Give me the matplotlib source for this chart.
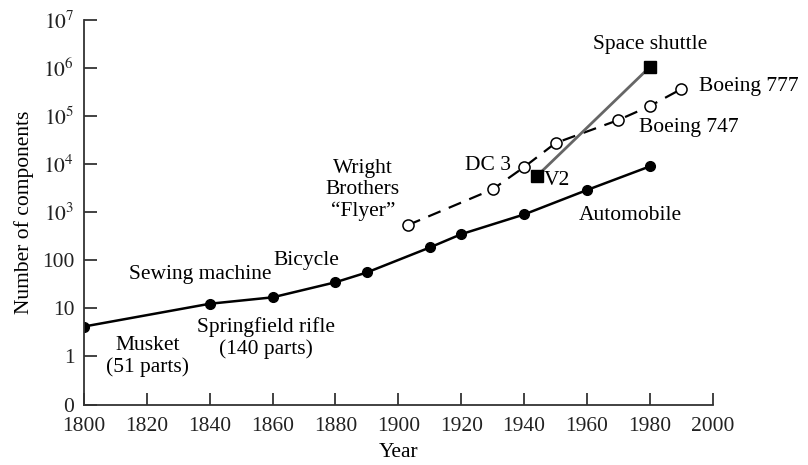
import numpy as np
import matplotlib.pyplot as plt

plt.rcParams['font.family'] = ['Liberation Serif', 'DejaVu Serif']
plt.rcParams['mathtext.fontset'] = 'stix'

# Mechanical products (filled circles)
mech_years = [1800, 1840, 1860, 1880, 1890, 1910, 1920, 1940, 1960, 1980]
mech_parts = [4.2, 12.5, 17, 35, 56, 185, 350, 900, 2900, 9000]

# Aircraft (open circles, dashed)
air_years = [1903, 1930, 1940, 1950, 1970, 1980, 1990]
air_parts = [540, 3000, 8700, 27500, 83000, 162000, 365000]

# Rockets (squares)
rocket_years = [1944, 1980]
rocket_parts = [5600, 1.05e6]

ytick_vals = [0.1, 1, 10, 100, 1e3, 1e4, 1e5, 1e6, 1e7]
ytick_labels = ['0', '1', '10', '100', r'$10^3$', r'$10^4$', r'$10^5$', r'$10^6$', r'$10^7$']

fig = plt.figure(figsize=(8.08, 4.65), dpi=100)
ax = fig.add_axes([0.104, 0.13, 0.778, 0.827])

ax.plot(mech_years, mech_parts, '-', color='black', lw=1.8,
        marker='o', markersize=7, markerfacecolor='black')
ax.plot(air_years, air_parts, '--', color='black', lw=1.6, dashes=(6, 4),
        marker='o', markersize=8, markerfacecolor='white', markeredgewidth=1.1)
ax.plot(rocket_years, rocket_parts, '-', color='#666666', lw=2,
        marker='s', markersize=9, markerfacecolor='black', markeredgecolor='black')

ax.set_yscale('log')
ax.set_xlim(1800, 2000)
ax.set_ylim(0.1, 1e7)
ax.set_xticks(np.arange(1800, 2001, 20))
ax.set_yticks(ytick_vals)
ax.set_yticklabels(ytick_labels)
ax.minorticks_off()
ax.tick_params(direction='in', length=9, width=1.2, labelsize=15.5, colors='#222222')
ax.tick_params(axis='x', pad=9)
ax.tick_params(axis='y', pad=7)
for s in ['top', 'right']:
    ax.spines[s].set_visible(False)
for s in ['left', 'bottom']:
    ax.spines[s].set_linewidth(1.3)
    ax.spines[s].set_color('#333333')

ax.set_xlabel('Year', fontsize=15.5, labelpad=5)
ax.set_ylabel('Number of components', fontsize=15.5, labelpad=6)

fs = 15.5
ax.text(1820.3, 1.0, 'Musket\n(51 parts)', ha='center', va='center', fontsize=fs, linespacing=1.15)
ax.text(1836.9, 51, 'Sewing machine', ha='center', va='center', fontsize=fs)
ax.text(1858, 2.4, 'Springfield rifle\n(140 parts)', ha='center', va='center', fontsize=fs, linespacing=1.2)
ax.text(1870.6, 101, 'Bicycle', ha='center', va='center', fontsize=fs)
ax.text(1888.7, 2950, 'Wright\nBrothers\n\u201cFlyer\u201d', ha='center', va='center', fontsize=fs, linespacing=1.15)
ax.text(1928.5, 9300, 'DC 3', ha='center', va='center', fontsize=fs)
ax.text(1950.4, 4550, 'V2', ha='center', va='center', fontsize=fs)
ax.text(1980, 3.1e6, 'Space shuttle', ha='center', va='center', fontsize=fs)
ax.text(1995.5, 4.2e5, 'Boeing 777', ha='left', va='center', fontsize=fs)
ax.text(1976.5, 5.8e4, 'Boeing 747', ha='left', va='center', fontsize=fs)
ax.text(1973.9, 840, 'Automobile', ha='center', va='center', fontsize=fs)

fig.savefig('out.png', dpi=100)
